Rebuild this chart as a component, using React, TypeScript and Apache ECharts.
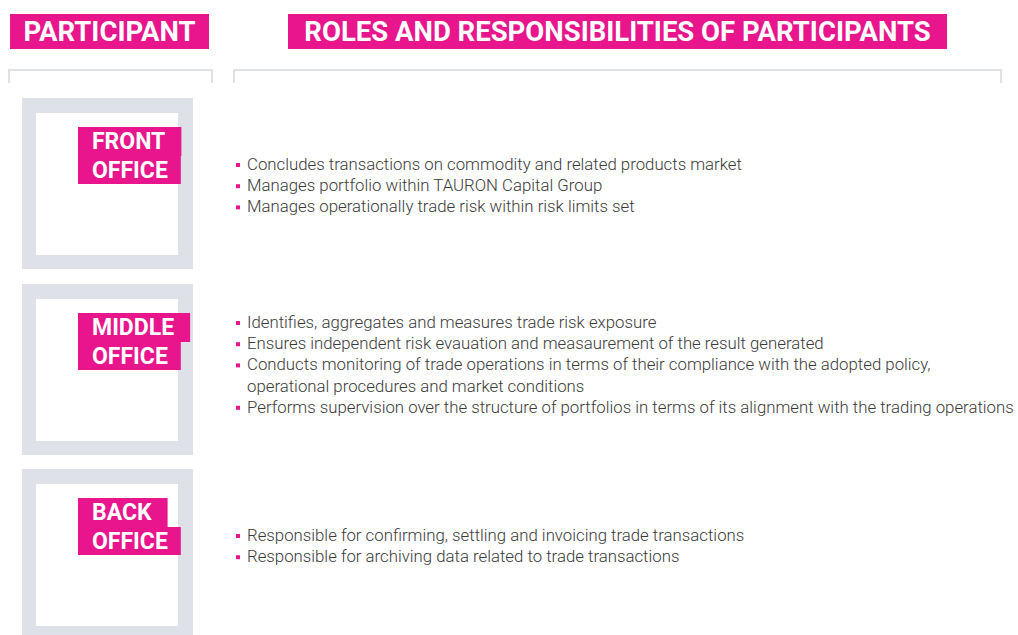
import React, { useEffect, useRef } from "react";
import * as echarts from "echarts";

// ---- content ----
const headerTitles = ["PARTICIPANT", "ROLES AND RESPONSIBILITIES OF PARTICIPANTS"];
const participantLabels = [
  ["FRONT", "OFFICE"],
  ["MIDDLE", "OFFICE"],
  ["BACK", "OFFICE"],
];
const frontRoles = [
  "Concludes transactions on commodity and related products market",
  "Manages portfolio within TAURON Capital Group",
  "Manages operationally trade risk within risk limits set",
];
const middleRoles = [
  "Identifies, aggregates and measures trade risk exposure",
  "Ensures independent risk evauation and measaurement of the result generated",
  "Conducts monitoring of trade operations in terms of their compliance with the adopted policy,\noperational procedures and market conditions",
  "Performs supervision over the structure of portfolios in terms of its alignment with the trading operations",
];
const backRoles = [
  "Responsible for confirming, settling and invoicing trade transactions",
  "Responsible for archiving data related to trade transactions",
];
const rolesBySection = [frontRoles, middleRoles, backRoles];

// ---- layout / style ----
const PINK = "#e8158c";
const GRAY = "#dee1e8";
const TEXT = "#3a3a3a";
const HEAD_FONT = "Roboto";
const BODY_FONT = "Roboto";
const boxTops = [98, 284, 469];
const firstLineY = [164, 322, 535];
const LINE_STEP = 21.2;

function buildElements() {
  const els: any[] = [];
  // header boxes
  const headerBoxes = [
    { x: 10, w: 199 },
    { x: 288, w: 659 },
  ];
  headerTitles.forEach((t, i) => {
    const b = headerBoxes[i];
    els.push({ type: "rect", shape: { x: b.x, y: 14, width: b.w, height: 35 }, style: { fill: PINK } });
    els.push({
      type: "text",
      x: b.x + b.w / 2,
      y: 31,
      style: {
        text: t,
        fill: "#ffffff",
        fontFamily: HEAD_FONT,
        fontWeight: "bold",
        fontSize: 27.5,
        align: "center",
        verticalAlign: "middle",
      },
    });
  });
  // brackets
  els.push({
    type: "polyline",
    shape: { points: [[9, 83], [9, 70], [212, 70], [212, 83]] },
    style: { stroke: GRAY, lineWidth: 2, fill: null },
  });
  els.push({
    type: "polyline",
    shape: { points: [[234, 83], [234, 70], [1001, 70], [1001, 83]] },
    style: { stroke: GRAY, lineWidth: 2, fill: null },
  });
  // sections
  participantLabels.forEach((lbl, i) => {
    const top = boxTops[i];
    els.push({ type: "rect", shape: { x: 22, y: top, width: 171, height: 171 }, style: { fill: GRAY } });
    els.push({ type: "rect", shape: { x: 36, y: top + 15, width: 142, height: 142 }, style: { fill: "#ffffff" } });
    lbl.forEach((word, j) => {
      els.push({
        type: "text",
        x: 78,
        y: top + 29 + j * 29,
        z: 10,
        style: {
          text: word,
          fill: "#ffffff",
          fontFamily: HEAD_FONT,
          fontWeight: "bold",
          fontSize: 23,
          lineHeight: j === 0 ? 29 : 28,
          align: "left",
          verticalAlign: "top",
          backgroundColor: PINK,
          padding: j === 0 ? [0, 16, 0, 14] : [0, 13, 0, 14],
        },
      });
    });
    // roles
    let y = firstLineY[i];
    rolesBySection[i].forEach((role) => {
      const lines = role.split("\n");
      lines.forEach((ln, k) => {
        if (k === 0) {
          els.push({
            type: "rect",
            shape: { x: 236, y: y - 1, width: 4, height: 4 },
            style: { fill: PINK },
          });
        }
        els.push({
          type: "text",
          x: 247,
          y: y,
          style: {
            text: ln,
            fill: TEXT,
            fontFamily: BODY_FONT,
            fontWeight: 300,
            fontSize: 16.8,
            align: "left",
            verticalAlign: "middle",
          },
        });
        y += LINE_STEP;
      });
    });
  });
  return els;
}

export default function App() {
  const ref = useRef<HTMLDivElement>(null);
  useEffect(() => {
    document.body.style.margin = "0";
    const chart = echarts.init(ref.current!, undefined, { renderer: "svg" });
    chart.setOption({
      animation: false,
      backgroundColor: "#ffffff",
      graphic: { elements: buildElements() },
    });
    return () => chart.dispose();
  }, []);
  return (
    <div
      ref={ref}
      style={{ position: "absolute", left: 0, top: 0, width: 1018, height: 635 }}
    />
  );
}
